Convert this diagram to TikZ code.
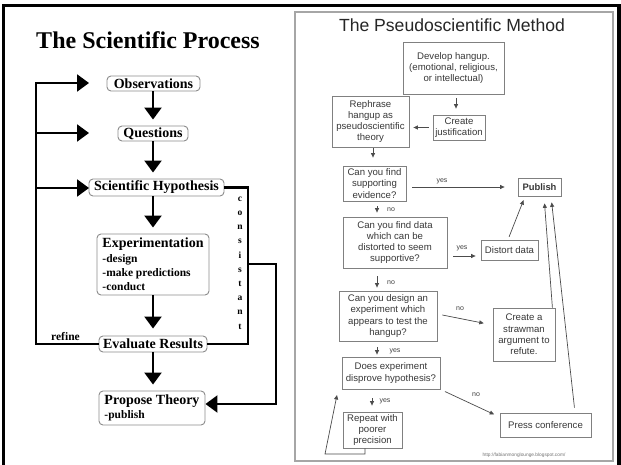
\documentclass[tikz,border=0pt]{standalone}
\usepackage{fontspec}
\setmainfont{Liberation Serif}
\newfontfamily\arial{Liberation Sans}
\usetikzlibrary{arrows.meta,calc}
\begin{document}
\begin{tikzpicture}[x=1pt,y=-1pt,
  sbox/.style={draw=black!45,line width=0.9pt,rounded corners=4pt,fill=white,inner sep=0pt,
    font=\fontsize{14}{16}\selectfont\bfseries,align=center},
  bigarr/.style={line width=2.3pt,-{Triangle[width=17pt,length=12pt]}},
  bline/.style={line width=2.3pt},
  pbox/.style={draw=black!50,line width=0.8pt,inner sep=0pt,align=center,
    font=\arial\fontsize{9.6}{11.3}\selectfont,text=black!78},
  parr/.style={draw=black!70,line width=0.7pt,-{Triangle[length=4.5pt,width=4pt]}},
  plab/.style={font=\arial\fontsize{7}{8}\selectfont,text=black!75,inner sep=0pt},
]
\useasboundingbox (0,0) rectangle (621,465);
\fill[white] (0,0) rectangle (621,465);
% outer frame
\draw[line width=3.2pt] (3.5,466) -- (3.5,5.5) -- (619,5.5) -- (619,466);
% right panel frame
\draw[black!35,line width=1.2pt] (295,12) rectangle (613,461);

% ---------- left panel ----------
\node[font=\fontsize{24}{26}\selectfont\bfseries,anchor=base,inner sep=0pt] (ltitle) at (148,49) {The Scientific Process};
\node[sbox,minimum width=93pt,minimum height=15pt] (obs) at (153.5,83.5) {Observations};
\node[sbox,minimum width=70pt,minimum height=15pt] (que) at (153,133.5) {Questions};
\node[sbox,minimum width=135pt,minimum height=17pt] (hyp) at (156.5,187.5) {Scientific Hypothesis};
\node[sbox,minimum width=112pt,minimum height=61pt,align=left,font=\fontsize{11.5}{14.3}\selectfont\bfseries] (exp) at (153,264.5)
  {{\fontsize{14}{16}\selectfont Experimentation}\\-design\\-make predictions\\-conduct};
\node[sbox,minimum width=108pt,minimum height=16pt] (eva) at (153,344) {Evaluate Results};
\node[sbox,minimum width=106pt,minimum height=34pt,align=left,font=\fontsize{11.5}{14}\selectfont\bfseries] (pro) at (152,408)
  {{\fontsize{14}{16}\selectfont Propose Theory}\\-publish};

\draw[bigarr,shorten >=6pt] (obs.south -| exp.north) -- (que.north -| exp.north);
\draw[bigarr,shorten >=6pt] (que.south -| exp.north) -- (hyp.north -| exp.north);
\draw[bigarr,shorten >=6pt] (hyp.south -| exp.north) -- (exp.north);
\draw[bigarr,shorten >=7pt] (exp.south) -- (eva.north);
\draw[bigarr,shorten >=6pt] (eva.south) -- (eva.south |- pro.north);

% refine loop
\coordinate (lbot) at (36,344);
\coordinate (ltop) at (36,83);
\coordinate (t1) at (89,83);
\coordinate (t2) at (89,133);
\coordinate (t3) at (89,188);
\draw[bigarr] (eva.west) -- (lbot) -- (ltop) -- (t1);
\draw[bigarr] (ltop |- t2) -- (t2);
\draw[bigarr] (ltop |- t3) -- (t3);
\node[font=\fontsize{11.5}{13}\selectfont\bfseries,anchor=base,inner sep=0pt] (refine) at (65.5,340) {refine};

% consistant bracket
\coordinate (rbot) at (248,344);
\coordinate (rmid) at (248,264);
\coordinate (rfar) at (276,404);
\draw[bline] (hyp.east) -| (rbot) -- (eva.east);
\draw[bigarr] (rmid) -| (rfar) -- (rfar -| pro.east);
\node[font=\fontsize{9.5}{14.2}\selectfont\bfseries,align=center,inner sep=0pt] (cons) at (240,263)
  {c\\o\\n\\s\\i\\s\\t\\a\\n\\t};

% ---------- right panel ----------
\node[font=\arial\fontsize{17.6}{20}\selectfont,anchor=base,inner sep=0pt,text=black!85] (rtitle) at (452,32) {The Pseudoscientific Method};
\node[pbox,minimum width=101pt,minimum height=52pt] (dev) at (453.5,68) {Develop hangup.\\(emotional, religious,\\or intellectual)};
\node[pbox,minimum width=52pt,minimum height=25pt] (cre) at (459,127.5) {Create\\justification};
\node[pbox,minimum width=77pt,minimum height=51pt] (rep) at (370.5,121.5) {Rephrase\\hangup as\\pseudoscientific\\theory};
\node[pbox,minimum width=63pt,minimum height=35pt] (sup) at (374.5,183.5) {Can you find\\supporting\\evidence?};
\node[pbox,minimum width=43pt,minimum height=18pt,font=\arial\fontsize{9.4}{11}\selectfont\bfseries] (pub) at (539.5,187) {Publish};
\node[pbox,minimum width=104pt,minimum height=51pt] (dat) at (395,242.5) {Can you find data\\which can be\\distorted to seem\\supportive?};
\node[pbox,minimum width=57pt,minimum height=20pt] (dis) at (509.5,250) {Distort data};
\node[pbox,minimum width=98pt,minimum height=50pt] (des) at (388,316) {Can you design an\\experiment which\\appears to test the\\hangup?};
\node[pbox,minimum width=62pt,minimum height=53pt] (str) at (524,334.5) {Create a\\strawman\\argument to\\refute.};
\node[pbox,minimum width=98pt,minimum height=32pt] (doe) at (391,373) {Does experiment\\disprove hypothesis?};
\node[pbox,minimum width=91pt,minimum height=24pt] (pre) at (545.5,425) {Press conference};
\node[pbox,minimum width=59pt,minimum height=36pt] (rpt) at (372.5,430) {Repeat with\\poorer\\precision};

\draw[parr,shorten <=4pt,shorten >=6pt] ([xshift=2.5pt]dev.south) -- ([xshift=-3pt]cre.north);
\draw[parr,shorten <=4pt,shorten >=4pt] (cre.west) -- (cre.west -| rep.east);
\draw[parr,shorten <=1pt,shorten >=8pt] ([xshift=2.5pt]rep.south) -- ([xshift=2.5pt]rep.south |- sup.north);
\draw[parr,shorten <=6pt,shorten >=13pt] (pub.west -| sup.east) -- (pub.west);
\draw[parr,shorten <=5pt,shorten >=4pt] ([xshift=2.5pt]sup.south) -- ([xshift=2.5pt]sup.south |- dat.north);
\draw[parr,shorten <=6pt,shorten >=5pt] ([yshift=-6pt]dis.west -| dat.east) -- ([yshift=-6pt]dis.west);
\draw[parr,shorten <=3pt,shorten >=4pt] ([xshift=-1.5pt]dis.north) -- ([xshift=-14.5pt]pub.south);
\draw[parr,shorten <=8pt,shorten >=3pt] ([xshift=-18pt]dat.south) -- ([xshift=-18pt]dat.south |- des.north);
\draw[parr,shorten <=5pt,shorten >=9pt] ([yshift=2pt]des.east) -- ([yshift=9.5pt]str.west);
\draw[parr,shorten <=6pt,shorten >=2pt] ([xshift=-11pt]des.south) -- ([xshift=-11pt]des.south |- doe.north);
\draw[parr,shorten <=5pt,shorten >=6pt] (doe.south east) -- ([yshift=8pt]pre.west);
\draw[parr,shorten <=9pt,shorten >=6pt] ([xshift=-19pt]doe.south) -- ([xshift=-19pt]doe.south |- rpt.north);
\draw[parr,shorten >=7pt] ([xshift=-3pt]str.north east) -- ([xshift=4.5pt]pub.south);
\draw[parr,shorten <=5pt,shorten >=6pt] ([xshift=29.5pt]pre.north) -- ([xshift=11.5pt]pub.south);
\coordinate (lp) at (325,454);
\coordinate (lpend) at (337,395);
\draw[parr] ([xshift=-7.5pt]rpt.south) -- ([xshift=-7.5pt]rpt.south |- lp) -- (lp) -- (lpend);

\node[plab] (l1) at (442,181) {yes};
\node[plab] (l2) at (391,210) {no};
\node[plab] (l3) at (462,248) {yes};
\node[plab] (l4) at (391,283) {no};
\node[plab] (l5) at (460,309) {no};
\node[plab] (l6) at (395,351) {yes};
\node[plab] (l7) at (476,395) {no};
\node[plab] (l8) at (385,401) {yes};
\node[font=\arial\fontsize{4.8}{5}\selectfont,text=black!55,inner sep=0pt] (url) at (524,455) {http://fabianmonglounge.blogspot.com/};
\end{tikzpicture}
\end{document}
